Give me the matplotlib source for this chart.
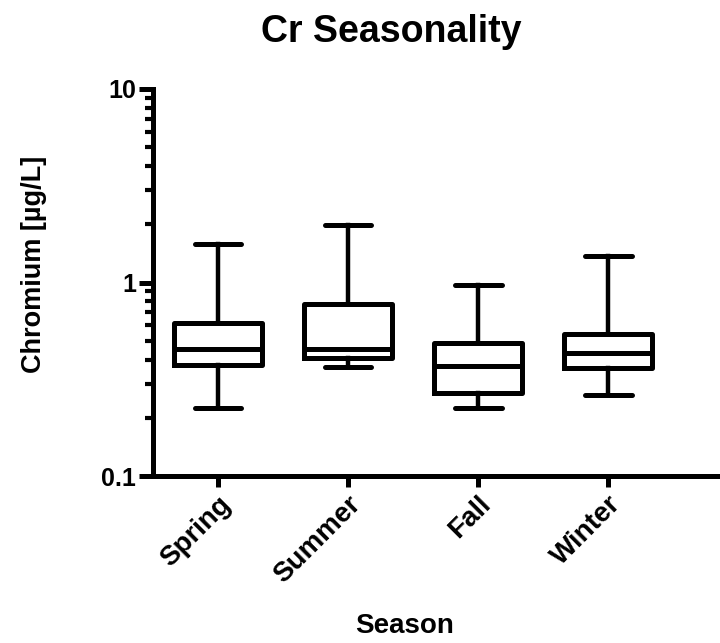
import matplotlib.pyplot as plt
from matplotlib.ticker import LogLocator, FixedFormatter, FixedLocator

plt.rcParams['font.family'] = ['Liberation Sans', 'DejaVu Sans']
plt.rcParams['font.weight'] = 'bold'

seasons = ["Spring", "Summer", "Fall", "Winter"]
whisker_low = [0.224, 0.366, 0.224, 0.263]
q1 = [0.375, 0.407, 0.268, 0.362]
median = [0.453, 0.453, 0.371, 0.432]
q3 = [0.617, 0.774, 0.487, 0.542]
whisker_high = [1.58, 1.98, 0.97, 1.37]

stats = []
for i, s in enumerate(seasons):
    stats.append({"label": s, "whislo": whisker_low[i], "q1": q1[i], "med": median[i],
                  "q3": q3[i], "whishi": whisker_high[i], "fliers": []})

fig = plt.figure(figsize=(7.2, 6.43), dpi=100)
ax = fig.add_axes([0.2125, 0.2597, 0.7875, 0.6019])

lw = 3.6
ax.bxp(stats, positions=range(len(seasons)), widths=0.68, showfliers=False,
       boxprops=dict(linewidth=lw, color='black', solid_joinstyle='round'),
       medianprops=dict(linewidth=lw, color='black'),
       whiskerprops=dict(linewidth=3.2, color='black'),
       capprops=dict(linewidth=lw, color='black', solid_capstyle='round'),
       capwidths=0.36)

ax.set_yscale('log')
ax.set_ylim(0.1, 10)
ax.set_xlim(-0.5, 3.86)

ax.yaxis.set_major_locator(FixedLocator([0.1, 1, 10]))
ax.yaxis.set_major_formatter(FixedFormatter(["0.1", "1", "10"]))
ax.yaxis.set_minor_locator(LogLocator(base=10, subs=range(2, 10)))
ax.yaxis.set_minor_formatter(FixedFormatter([]))

for sp in ['top', 'right']:
    ax.spines[sp].set_visible(False)
for sp in ['left', 'bottom']:
    ax.spines[sp].set_linewidth(lw)

ax.tick_params(axis='y', which='major', length=10, width=lw, labelsize=18, pad=2)
ax.tick_params(axis='y', which='minor', length=6, width=3)
ax.tick_params(axis='x', length=8, width=lw, labelsize=20, pad=3)
ax.set_xticks(range(len(seasons)))
ax.set_xticklabels(seasons, rotation=45, ha='right', rotation_mode='anchor')

ax.set_ylabel("Chromium [µg/L]", fontsize=19.5, fontweight='bold')
ax.yaxis.set_label_coords(-0.187, 0.548)
ax.set_xlabel("Season", fontsize=20, fontweight='bold')
ax.xaxis.set_label_coords(0.444, -0.355)
fig.suptitle("Cr Seasonality", x=0.544, y=0.978, fontsize=27, fontweight='bold')

fig.savefig("out.png", dpi=100)
